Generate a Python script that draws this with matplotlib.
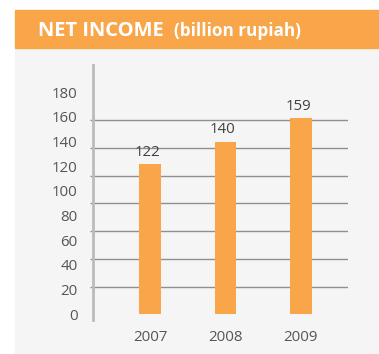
import numpy as np
import matplotlib.pyplot as plt
from matplotlib.patches import Rectangle

years = ['2007', '2008', '2009']
net_income = [122, 140, 159]
y_labels = [0, 20, 40, 60, 80, 100, 120, 140, 160, 180]

orange = '#F9A64A'
panel = '#F4F5F4'
text_grey = '#555555'

plt.rcParams['font.family'] = ['Open Sans', 'DejaVu Sans']

fig = plt.figure(figsize=(3.79, 3.54), dpi=100)
fig.patch.set_facecolor('white')

# grey panel and orange title band, kept behind the axes
fig.patches.append(Rectangle((15/379, 0), 363/379, (354-48)/354,
                             transform=fig.transFigure, color=panel, zorder=-2))
fig.patches.append(Rectangle((15/379, (354-48)/354), 363/379, 38/354,
                             transform=fig.transFigure, color=orange, zorder=-2))
fig.text(38/379, (354-36)/354, 'NET INCOME', color='white', fontsize=14.5,
         fontweight='bold', va='baseline', ha='left')
fig.text(174/379, (354-36)/354, '(billion rupiah)', color='white', fontsize=12.3,
         fontweight='bold', va='baseline', ha='left')

ax = fig.add_axes([92.7/379, 34/354, 254.8/379, 255/354])
ax.set_facecolor('none')

x = np.arange(len(years))
ax.bar(x, net_income, width=0.29, color=orange, zorder=3)
for xi, v in zip(x, net_income):
    ax.annotate(str(v), (xi, v), xytext=(-2, 3), textcoords='offset points',
                ha='center', va='bottom', fontsize=10.8, color='#404040')

ax.set_xlim(-0.759, 2.616)
ax.set_ylim(-4.6, 202.1)

# labels every 20, gridlines split the range into eight bands
ax.set_yticks(y_labels)
ax.set_yticklabels([str(v) for v in y_labels])
ax.set_yticks(np.linspace(0, 180, 9), minor=True)
ax.tick_params(axis='y', which='major', length=0, pad=11, labelsize=10.8,
               labelcolor=text_grey)
ax.tick_params(axis='y', which='minor', length=2, width=1.0, color='#8F8F8F')
ax.yaxis.grid(True, which='minor', color='#8F8F8F', linewidth=1.0, zorder=1)
ax.yaxis.grid(False, which='major')

ax.set_xticks(x)
ax.set_xticklabels(years)
ax.tick_params(axis='x', length=0, pad=7, labelsize=10.8, labelcolor=text_grey)

for s in ['top', 'right', 'bottom']:
    ax.spines[s].set_visible(False)
ax.spines['left'].set_color('#BBBBBB')
ax.spines['left'].set_linewidth(2)

fig.savefig('out.png', dpi=100)
